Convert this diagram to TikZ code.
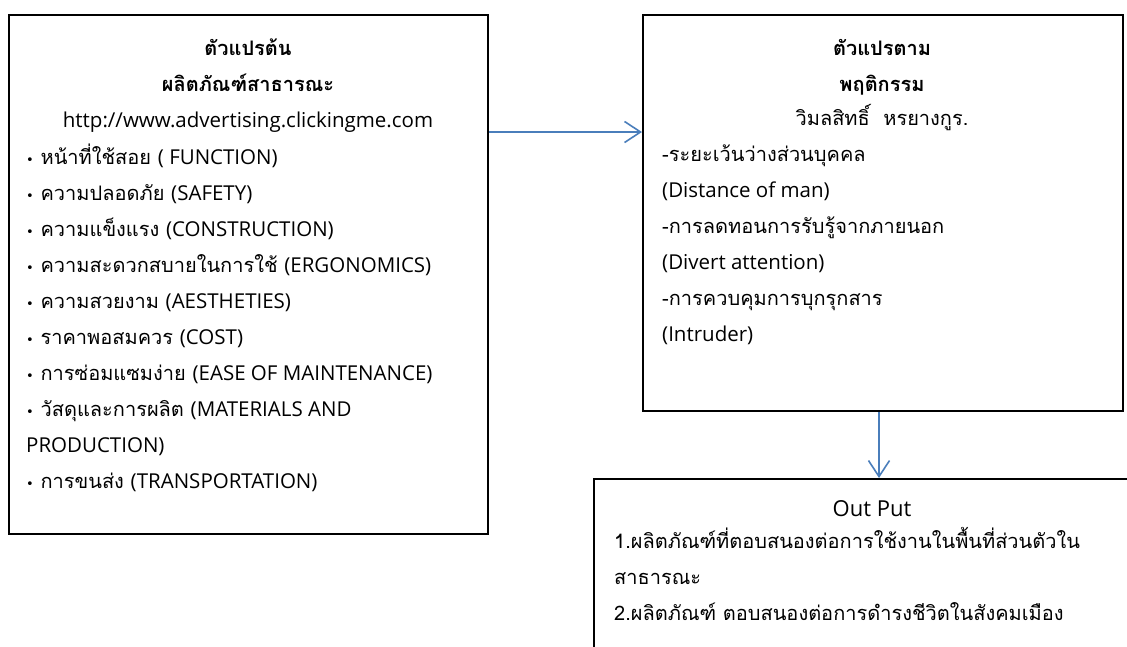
\documentclass[tikz,border=0pt]{standalone}
\usepackage{fontspec}
\setmainfont{Loma}[Script=Thai]
\newfontfamily\symf{DejaVu Sans}
\newfontfamily\latf{Open Sans}
\newcommand{\en}[1]{{\latf\fontsize{20.5}{36}\selectfont #1}}
\usetikzlibrary{arrows.meta}
\definecolor{arrblue}{HTML}{4A7EBB}
\newcommand{\bul}{{\symf\fontsize{13}{36}\selectfont•}\ }
\tikzset{
  box/.style={draw=black, line width=2pt, anchor=north west, inner sep=0pt},
  txt/.style={inner sep=0pt, font=\fontsize{20}{36}\selectfont},
  arr/.style={draw=arrblue, line width=1.6pt, -{Straight Barb[length=16pt,width=21pt,line width=1.6pt]}}
}
\begin{document}
\begin{tikzpicture}[x=1pt,y=-1pt]
\useasboundingbox (0,0) rectangle (1127,646);
\fill[white] (0,0) rectangle (1127,646);
% boxes
\node[box, minimum width=479pt, minimum height=519pt] (b1) at (8,14) {};
\node[box, minimum width=480pt, minimum height=396pt] (b2) at (642,14) {};
\node[box, minimum width=560pt, minimum height=200pt] (b3) at (593,478) {};
% box 1 text
\node[txt, anchor=north, align=center] (t1) at (248,39)
  {\textbf{ตัวแปรต้น}\\ \textbf{ผลิตภัณฑ์สาธารณะ}\\ \en{http://www.advertising.clickingme.com}};
\node[txt, anchor=north west, align=left] (l1) at (26,143.5)
  {\bul หน้าที่ใช้สอย \en{( FUNCTION)}\\
   \bul ความปลอดภัย \en{(SAFETY)}\\
   \bul ความแข็งแรง \en{(CONSTRUCTION)}\\
   \bul ความสะดวกสบายในการใช้ \en{(ERGONOMICS)}\\
   \bul ความสวยงาม \en{(AESTHETIES)}\\
   \bul ราคาพอสมควร \en{(COST)}\\
   \bul การซ่อมแซมง่าย \en{(EASE OF MAINTENANCE)}\\
   \bul วัสดุและการผลิต \en{(MATERIALS AND}\\
   \en{PRODUCTION)}\\
   \bul การขนส่ง \en{(TRANSPORTATION)}};
% box 2 text
\node[txt, anchor=north, align=center] (t2) at (882,39)
  {\textbf{ตัวแปรตาม}\\ \textbf{พฤติกรรม}};
\node[txt, anchor=north] (t2b) at (882,104) {วิมลสิทธิ์\ \ หรยางกูร.};
\node[txt, anchor=north west, align=left] (l2) at (662,145)
  {-ระยะเว้นว่างส่วนบุคคล\\
   \en{(Distance of man)}\\
   -การลดทอนการรับรู้จากภายนอก\\
   \en{(Divert attention)}\\
   -การควบคุมการบุกรุกสาร\\
   \en{(Intruder)}};
% box 3 text
\node[txt, anchor=north, font=\latf\fontsize{22}{36}\selectfont] (t3) at (872,500.5) {Out Put};
\node[txt, anchor=north west, align=left] (l3) at (614,527.5)
  {1.ผลิตภัณฑ์ที่ตอบสนองต่อการใช้งานในพื้นที่ส่วนตัวใน\\
   สาธารณะ\\
   2.ผลิตภัณฑ์ ตอบสนองต่อการดำรงชีวิตในสังคมเมือง};
% connectors
\draw[arr] ([yshift=-118pt]b1.north east) -- ([yshift=-118pt]b2.north west);
\draw[arr] ([xshift=-4pt]b2.south) -- ([xshift=-4pt]b2.south |- b3.north);
\end{tikzpicture}
\end{document}
